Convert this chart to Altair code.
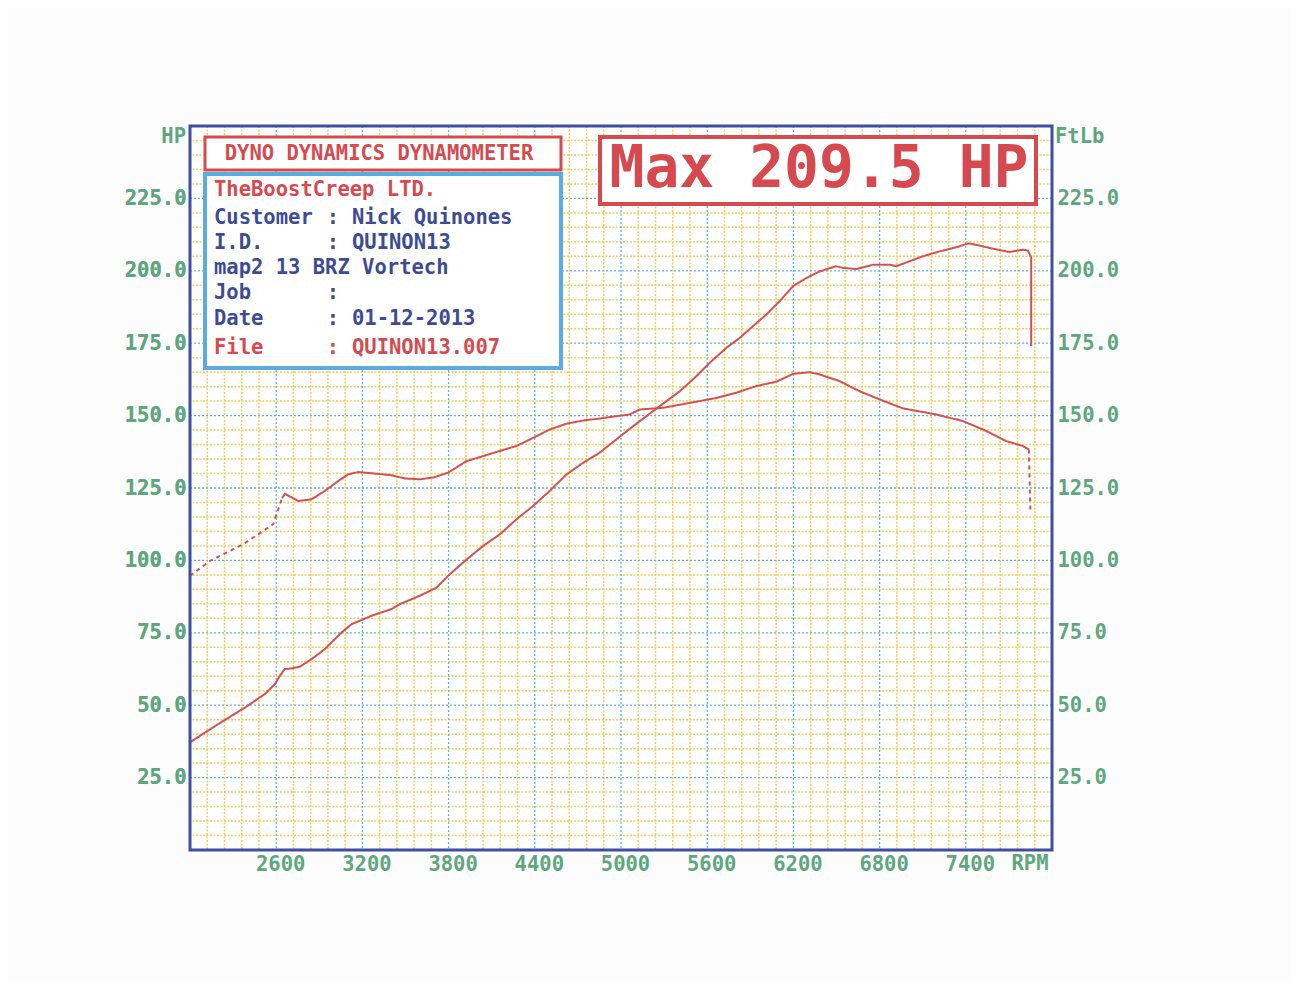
import altair as alt
import pandas as pd

# ---------------- data ----------------
hp_rpm = [2000, 2197, 2383, 2522, 2591, 2626, 2661, 2707, 2765, 2846, 2939, 3055, 3125, 3194,
          3264, 3403, 3461, 3600, 3716, 3797, 3913, 4040, 4157, 4273, 4388, 4504, 4621, 4736,
          4852, 4968, 5070, 5270, 5409, 5525, 5617, 5733, 5826, 5919, 6012, 6104, 6197, 6290,
          6383, 6499, 6545, 6638, 6754, 6870, 6916, 7009, 7101, 7217, 7333, 7420, 7496, 7565,
          7681, 7704, 7797, 7832, 7855, 7855]
hp_val = [37.2, 43.5, 49.2, 53.9, 57.3, 60.2, 62.5, 62.7, 63.3, 65.9, 69.4, 75.1, 78.0, 79.4,
          80.9, 83.2, 84.9, 87.8, 90.6, 94.7, 99.8, 105.0, 109.0, 114.2, 118.8, 124.0, 129.7, 133.7,
          137.2, 141.8, 145.8, 153.3, 158.4, 163.6, 168.2, 173.4, 176.8, 180.9, 184.9, 189.5, 194.7, 197.5,
          199.8, 201.6, 201.0, 200.6, 202.1, 202.1, 201.6, 203.3, 205.0, 206.7, 208.1, 209.5, 208.7, 207.9,
          206.7, 206.5, 207.3, 207.0, 204.7, 174.0]

tq_start_rpm = [2000, 2139, 2371, 2580, 2603, 2640]
tq_start_val = [94.7, 99.8, 105.6, 112.5, 115.9, 121.5]

tq_rpm = [2640, 2661, 2754, 2846, 2939, 3032, 3101, 3171, 3264, 3403, 3496, 3600, 3693, 3797,
          3925, 4040, 4157, 4273, 4388, 4504, 4621, 4736, 4852, 4968, 5061, 5130, 5293, 5525,
          5664, 5803, 5942, 6081, 6197, 6313, 6383, 6522, 6661, 6800, 6962, 7194, 7380, 7542,
          7681, 7797, 7839]
tq_val = [121.5, 123.0, 120.5, 121.1, 124.0, 127.4, 129.7, 130.5, 130.1, 129.4, 128.3, 128.0, 128.6, 130.3,
          134.3, 136.0, 137.8, 139.5, 142.3, 145.2, 147.2, 148.3, 149.0, 149.8, 150.4, 152.1, 152.7, 154.8,
          156.1, 157.9, 160.2, 161.7, 164.4, 165.0, 164.2, 161.9, 158.4, 155.6, 152.5, 150.4, 148.1, 144.7,
          141.2, 139.5, 138.3]

tq_end_rpm = [7839, 7850]
tq_end_val = [138.3, 116.5]

x_major = [2600, 3200, 3800, 4400, 5000, 5600, 6200, 6800, 7400]
y_major = [25, 50, 75, 100, 125, 150, 175, 200, 225]
x_minor = [r for r in range(2120, 8000, 120) if (r - 2000) % 600 != 0]
y_minor = [v for v in range(5, 250, 5) if v % 25 != 0]

info_labels = ["Customer", "I.D.", "Job", "Date"]
info_values = ["Nick Quinones", "QUINON13", "", "01-12-2013"]

# ---------------- style ----------------
W, H = 862, 724
FONT = "DejaVu Sans Mono"
LINE = "#d6504d"
RED = "#d64a4f"
NAVY = "#3d4b94"
GREEN = "#5ea77e"
FRAME = "#3f4f9f"
BLUE = "#5bb3e3"
YELLOW = "#f4cd5a"
BOXBLUE = "#5aace0"
FS = 20.5

xs = alt.Scale(domain=[2000, 8000], nice=False, zero=False)
ys = alt.Scale(domain=[0, 250], nice=False, zero=False)

rows = []
def add(seg, style, rpms, vals):
    for i, (r, v) in enumerate(zip(rpms, vals)):
        rows.append({"seg": seg, "style": style, "idx": i, "rpm": r, "val": v})

add("hp", "solid", hp_rpm, hp_val)
add("tq0", "dashed", tq_start_rpm, tq_start_val)
add("tq1", "solid", tq_rpm, tq_val)
add("tq2", "dashed", tq_end_rpm, tq_end_val)
lines = pd.DataFrame(rows)

one = pd.DataFrame({"a": [0]})

xaxis = alt.Axis(values=x_major, format="d", labelFont=FONT, labelFontSize=FS, labelFontWeight="bold",
                 labelColor=GREEN, ticks=False, domain=False, grid=False, labelPadding=4,
                 labelOffset=4, title=None, labelFlush=False, orient="bottom")
left_axis = alt.Axis(values=y_major, format=".1f", labelFont=FONT, labelFontSize=FS,
                     labelFontWeight="bold", labelColor=GREEN, ticks=False, domain=False,
                     grid=False, labelPadding=4, title=None, orient="left")
right_axis = alt.Axis(values=y_major, format=".1f", labelFont=FONT, labelFontSize=FS,
                      labelFontWeight="bold", labelColor=GREEN, ticks=False, domain=False,
                      grid=False, labelPadding=5, title=None, orient="right")

# grids
gx_minor = alt.Chart(pd.DataFrame({"rpm": x_minor})).mark_rule(
    color=YELLOW, strokeWidth=1.5, strokeDash=[2, 1.5]).encode(
    x=alt.X("rpm:Q", scale=xs, axis=xaxis))
gy_minor = alt.Chart(pd.DataFrame({"val": y_minor})).mark_rule(
    color=YELLOW, strokeWidth=1.5, strokeDash=[2, 1.5]).encode(
    y=alt.Y("val:Q", scale=ys, axis=left_axis))
gx_major = alt.Chart(pd.DataFrame({"rpm": x_major})).mark_rule(
    color=BLUE, strokeWidth=1.3, strokeDash=[2, 2]).encode(
    x=alt.X("rpm:Q", scale=xs, axis=xaxis))
gy_major = alt.Chart(pd.DataFrame({"val": y_major})).mark_rule(
    color=BLUE, strokeWidth=1.3, strokeDash=[2, 2]).encode(
    y=alt.Y("val:Q", scale=ys, axis=left_axis))

curves = alt.Chart(lines).mark_line(color=LINE, strokeWidth=2).encode(
    x=alt.X("rpm:Q", scale=xs, axis=xaxis),
    y=alt.Y("val:Q", scale=ys, axis=right_axis),
    detail="seg:N",
    order="idx:Q",
    strokeDash=alt.StrokeDash("style:N", scale=alt.Scale(domain=["solid", "dashed"],
                                                         range=[[1, 0], [4, 4]]), legend=None),
)


def box(x1, x2, y1, y2, stroke, sw, fill="white"):
    return alt.Chart(one).mark_rect(fill=fill, stroke=stroke, strokeWidth=sw).encode(
        x=alt.value(x1), x2=alt.value(x2), y=alt.value(y1), y2=alt.value(y2))


def ptext(txt, x, y, color, size=FS, align="left"):
    return alt.Chart(one).mark_text(text=txt, align=align, baseline="middle", font=FONT,
                                    fontSize=size, fontWeight="bold", color=color).encode(
        x=alt.value(x), y=alt.value(y))


frame = alt.Chart(one).mark_rect(fillOpacity=0, stroke=FRAME, strokeWidth=3).encode(
    x=alt.value(0), x2=alt.value(W), y=alt.value(0), y2=alt.value(H))

layers = [gx_minor, gy_minor, gx_major, gy_major, curves]

# boxes
layers.append(box(15, 371, 11, 44, RED, 3))
layers.append(ptext("DYNO DYNAMICS DYNAMOMETER", 189, 28, RED, align="center"))
layers.append(box(15, 371, 48, 242, BOXBLUE, 4))
layers.append(ptext("TheBoostCreep LTD.", 24, 64, RED))
ys_info = [92, 117, 167, 193]
for lab, val, yy in zip(info_labels, info_values, ys_info):
    layers.append(ptext(lab, 24, yy, NAVY))
    layers.append(ptext(":", 143, yy, NAVY, align="center"))
    if val:
        layers.append(ptext(val, 162, yy, NAVY))
layers.append(ptext("map2 13 BRZ Vortech", 24, 142, NAVY))
layers.append(ptext("File", 24, 222, RED))
layers.append(ptext(":", 143, 222, RED, align="center"))
layers.append(ptext("QUINON13.007", 162, 222, RED))

layers.append(box(410, 846, 11, 78, RED, 4))
layers.append(ptext("Max 209.5 HP", 629, 44, RED, size=58, align="center"))

# axis unit labels
layers.append(ptext("HP", -4, 11, GREEN, align="right"))
layers.append(ptext("FtLb", 865, 11, GREEN))
layers.append(ptext("RPM", 840, 738, GREEN, align="center"))

layers.append(frame)

chart = alt.layer(*layers).properties(
    width=W, height=H,
    autosize=alt.AutoSizeParams(type="none"),
    padding={"left": 182, "top": 118, "right": 240, "bottom": 130},
    background="#fcfcfc",
).configure_view(fill="white", stroke=None)

chart.save("out.html", embed_options={"renderer": "svg", "actions": False})
